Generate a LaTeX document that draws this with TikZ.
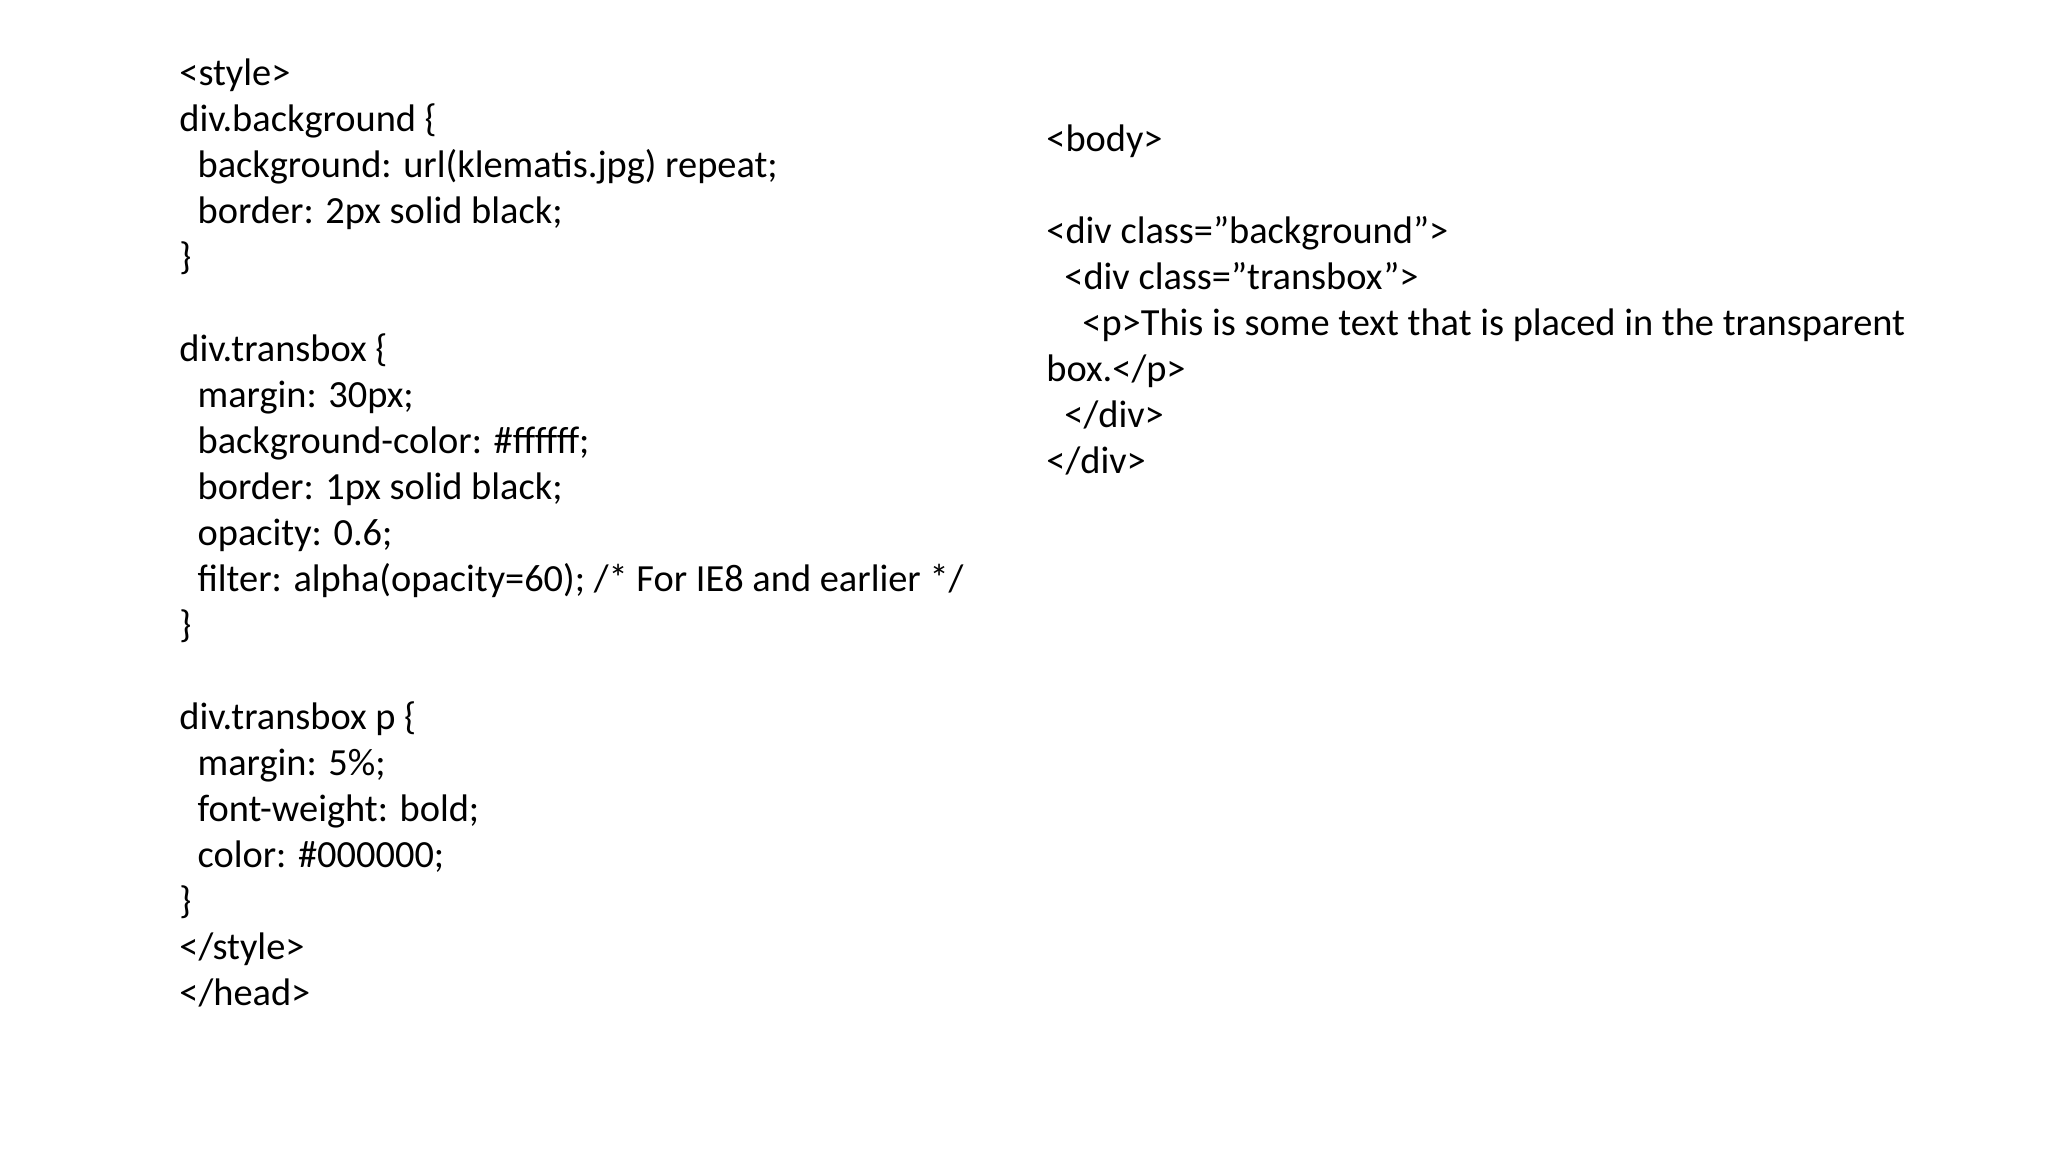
\documentclass[tikz,border=0pt]{standalone}
\usepackage{fontspec}
\setmainfont{Carlito}
\begin{document}
\begin{tikzpicture}[x=1pt,y=1pt,
  codeline/.style={anchor=base west,inner sep=0pt,font=\fontsize{19.2}{23}\selectfont}]
\useasboundingbox (0,0) rectangle (1024,-576);
\def\L{89.5}\def\Li{98.6}
\foreach \i/\x/\t [count=\n] in {
 0/\L/{<style>},
 1/\L/{div.background \{},
 2/\Li/{background: url(klematis.jpg) repeat;},
 3/\Li/{border: 2px solid black;},
 4/\L/{\}},
 6/\L/{div.transbox \{},
 7/\Li/{margin: 30px;},
 8/\Li/{background-color: \#ffffff;},
 9/\Li/{border: 1px solid black;},
 10/\Li/{opacity: 0.6;},
 11/\Li/{filter: alpha(opacity=60); /* For IE8 and earlier */},
 12/\L/{\}},
 14/\L/{div.transbox p \{},
 15/\Li/{margin: 5\%;},
 16/\Li/{font-weight: bold;},
 17/\Li/{color: \#000000;},
 18/\L/{\}},
 19/\L/{</style>},
 20/\L/{</head>}}
 \node[codeline] (l\n) at (\x,{-42.5-23*\i}) {\t};
\foreach \j/\x/\t [count=\n] in {
 0/523/{<body>},
 2/523/{<div class="background">},
 3/532/{<div class="transbox">},
 4/541/{<p>This is some text that is placed in the transparent},
 5/523/{box.</p>},
 6/532/{</div>},
 7/523/{</div>}}
 \node[codeline] (r\n) at (\x,{-75.8-23*\j}) {\t};
\end{tikzpicture}
\end{document}
